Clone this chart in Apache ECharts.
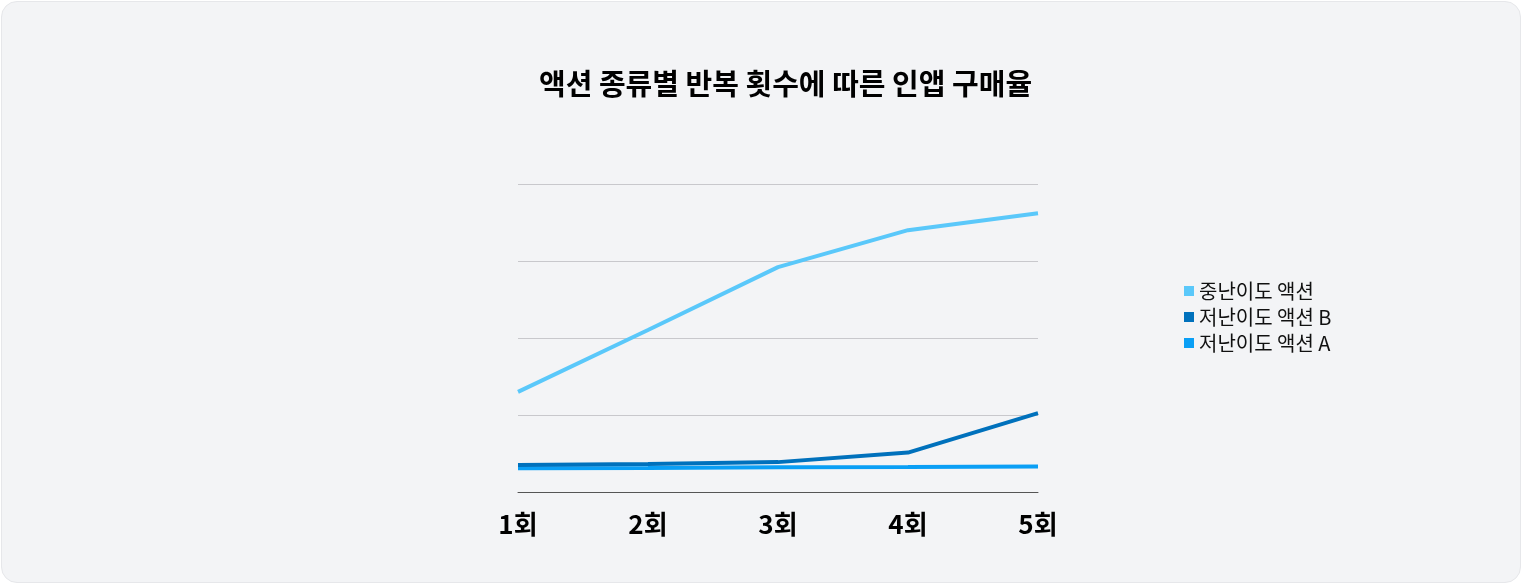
<!DOCTYPE html>
<html><head><meta charset="utf-8">
<script src="https://cdn.jsdelivr.net/npm/echarts@6/dist/echarts.min.js"></script>
<style>
html,body{margin:0;padding:0;background:#fff;width:1522px;height:584px;overflow:hidden;}
#wrap{position:absolute;left:1px;top:1px;width:1518px;height:580px;background:#f3f4f6;border:1px solid #e6e7ea;border-radius:16px;}
#chart{position:absolute;left:0;top:0;width:1522px;height:584px;}
</style></head><body>
<div id="wrap"></div>
<div id="chart"></div>
<script>
const title = '액션 종류별 반복 횟수에 따른 인앱 구매율';
const categories = ['1회', '2회', '3회', '4회', '5회'];
const seriesNames = ['중난이도 액션', '저난이도 액션 B', '저난이도 액션 A'];
const midAction = [32.5, 52.6, 73.0, 85.0, 90.5];
const lowActionB = [8.8, 9.1, 9.7, 12.8, 25.6];
const lowActionA = [7.7, 7.8, 8.0, 8.1, 8.3];
const colors = ['#5ac8fa', '#0071bc', '#0a9ff5'];

const font = '"Noto Sans CJK KR", "Noto Sans", sans-serif';
const chart = echarts.init(document.getElementById('chart'), null, {renderer: 'canvas'});
const dataSets = [midAction, lowActionB, lowActionA];
chart.setOption({
  backgroundColor: 'transparent',
  animation: false,
  color: colors,
  title: {
    text: title, left: 534, top: 64,
    textStyle: {fontFamily: font, fontSize: 29, fontWeight: 'bold', color: '#000'}
  },
  legend: {
    orient: 'vertical', left: 1179, top: 276,
    itemWidth: 10, itemHeight: 10, itemGap: 6, icon: 'rect',
    textStyle: {fontFamily: font, fontSize: 20, color: '#111'},
    data: seriesNames
  },
  grid: {left: 518, right: 484, top: 184, bottom: 92, containLabel: false},
  xAxis: {
    type: 'category', boundaryGap: false, data: categories,
    axisLine: {lineStyle: {color: '#555', width: 1}},
    axisTick: {show: false},
    axisLabel: {fontFamily: font, fontSize: 26, color: '#000', fontWeight: 'bold', margin: 19}
  },
  yAxis: {
    type: 'value', min: 0, max: 100, interval: 25,
    axisLabel: {show: false}, axisLine: {show: false}, axisTick: {show: false},
    splitLine: {lineStyle: {color: '#c8c8cc', width: 1}}
  },
  series: seriesNames.map((n, i) => ({
    name: n, type: 'line', data: dataSets[i], symbol: 'none',
    lineStyle: {width: 4, color: colors[i]},
    z: i === 1 ? 3 : 2
  }))
});
</script>
</body></html>
